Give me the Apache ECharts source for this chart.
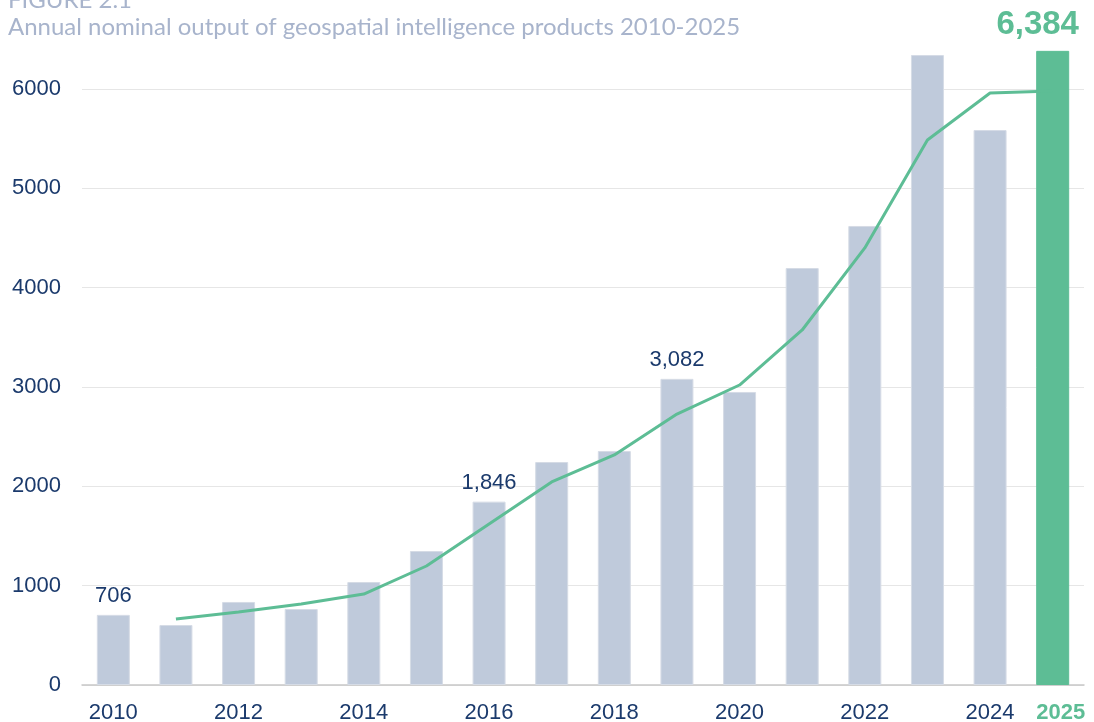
<!DOCTYPE html>
<html><head><meta charset="utf-8">
<script src="https://cdn.jsdelivr.net/npm/echarts@6/dist/echarts.min.js"></script>
<style>html,body{margin:0;padding:0;background:#fff}#c{width:1094px;height:722px}</style>
</head><body><div id="c"></div>
<script>
const years = ['2010','2011','2012','2013','2014','2015','2016','2017','2018','2019','2020','2021','2022','2023','2024','2025'];
const output = [706, 604, 836, 765, 1037, 1349, 1846, 2245, 2356, 3082, 2950, 4198, 4621, 6342, 5587, 6384];
const trend = [null, 664, 735, 815, 916, 1198, 1621, 2044, 2316, 2728, 3020, 3574, 4400, 5487, 5960, 5980];
const labelledYears = ['2010', '2016', '2019'];
const highlightYear = '2025';
const titleText = 'Annual nominal output of geospatial intelligence products 2010-2025';
const figureText = 'FIGURE 2.1';

const navy = '#1b3a6c';
const green = '#5dbd95';
const barGrey = '#bfcadb';
const numFont = '"Liberation Sans", Arial, sans-serif';
const fmt = v => v.toLocaleString('en-US');

const barData = output.map((v, i) => {
  const y = years[i];
  if (y === highlightYear) {
    return { value: v, itemStyle: { color: green, borderColor: green },
      label: { show: true, position: 'top', distance: 9, offset: [-15, 0], color: green,
        fontSize: 33, fontWeight: 'bold', fontFamily: numFont, formatter: p => fmt(p.value) } };
  }
  if (labelledYears.includes(y)) {
    return { value: v, label: { show: true, position: 'top', distance: 8, color: navy,
      fontSize: 22, fontFamily: numFont, formatter: p => fmt(p.value) } };
  }
  return v;
});

const chart = echarts.init(document.getElementById('c'), null, { renderer: 'canvas' });
chart.setOption({
  animation: false,
  title: [
    { text: figureText, left: 3, top: -17, textStyle: { color: '#a8b4cc', fontSize: 24, fontWeight: 'normal', fontFamily: 'Lato, sans-serif' } },
    { text: titleText, left: 3, top: 10, textStyle: { color: '#a8b4cc', fontSize: 24, fontWeight: 'normal', fontFamily: 'Lato, sans-serif' } }
  ],
  grid: { left: 82, right: 10, top: 89, bottom: 37, outerBoundsMode: 'none', containLabel: false },
  xAxis: {
    type: 'category', data: years,
    axisLine: { lineStyle: { color: '#c8c8c8', width: 1.5 } },
    axisTick: { show: false },
    axisLabel: {
      interval: (i) => i % 2 === 0 || years[i] === highlightYear,
      margin: 17, fontSize: 22, fontFamily: numFont, color: navy,
      formatter: (v) => v === highlightYear ? '{h|' + v + '}' : v,
      rich: { h: { color: green, fontWeight: 'bold', fontSize: 22, fontFamily: numFont, padding: [0, 0, 0, 16] } }
    }
  },
  yAxis: {
    type: 'value', min: 0, max: 6000, interval: 1000,
    axisLine: { show: false }, axisTick: { show: false },
    axisLabel: { margin: 21, fontSize: 22, color: navy, fontFamily: numFont, formatter: v => String(v) },
    splitLine: { lineStyle: { color: '#e6e6e6', width: 1 } }
  },
  series: [
    { type: 'bar', data: barData, barWidth: 33, clip: false,
      itemStyle: { color: barGrey, borderColor: '#d6dce6', borderWidth: 1 }, z: 2 },
    { type: 'line', data: trend, clip: false, symbol: 'none', smooth: false,
      lineStyle: { color: green, width: 3 }, z: 3 }
  ]
});
</script></body></html>
